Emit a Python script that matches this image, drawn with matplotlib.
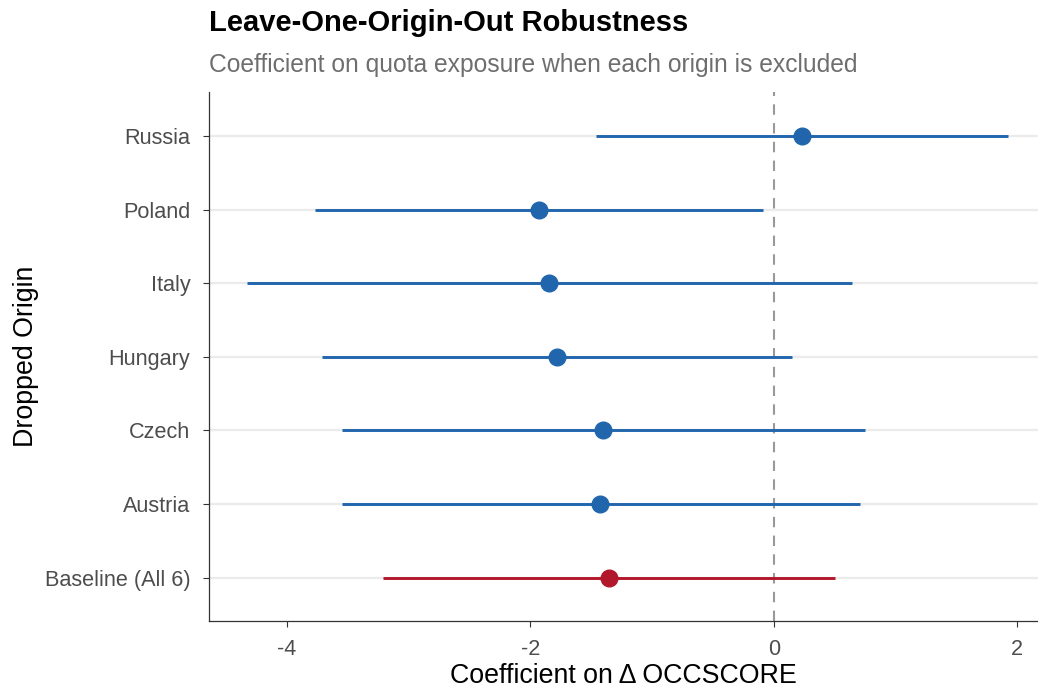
import matplotlib
matplotlib.use("Agg")
import matplotlib.pyplot as plt

plt.rcParams['font.family'] = ['Liberation Sans', 'DejaVu Sans']

# Leave-one-origin-out estimates (bottom to top)
origins = ["Baseline (All 6)", "Austria", "Czech", "Hungary", "Italy", "Poland", "Russia"]
estimates = [-1.35, -1.43, -1.40, -1.78, -1.85, -1.93, 0.23]
ci_low = [-3.21, -3.55, -3.55, -3.71, -4.33, -3.77, -1.46]
ci_high = [0.50, 0.71, 0.75, 0.15, 0.64, -0.09, 1.92]
xticks = [-4, -2, 0, 2]

blue = "#2166ac"
red = "#b2182b"

fig = plt.figure(figsize=(10.38, 6.93), dpi=100)
ax = fig.add_axes([0.2013, 0.1039, 0.7987, 0.7633])

for i, name in enumerate(origins):
    ax.axhline(i, color="#ebebeb", lw=1.6, zorder=0)
    c = red if name.startswith("Baseline") else blue
    ax.plot([ci_low[i], ci_high[i]], [i, i], color=c, lw=2.1, solid_capstyle="butt", zorder=2)
    ax.plot(estimates[i], i, "o", color=c, ms=12, zorder=3)

ax.axvline(0, color="#999999", lw=1.5, ls=(0, (5, 4)), zorder=1)

ax.set_xlim(-4.64, 2.17)
ax.set_ylim(-0.59, 6.6)
ax.set_yticks(range(len(origins)))
ax.set_yticklabels(origins)
ax.set_xticks(xticks)
ax.set_xticklabels([str(t) for t in xticks])

for s in ["top", "right"]:
    ax.spines[s].set_visible(False)
for s in ["left", "bottom"]:
    ax.spines[s].set_color("#333333")
    ax.spines[s].set_linewidth(0.9)

ax.tick_params(axis="both", colors="#333333", length=4.3, width=0.8, labelsize=15.6,
               labelcolor="#4d4d4d")
ax.tick_params(axis="y", pad=9)
ax.tick_params(axis="x", pad=9)

ax.set_xlabel("Coefficient on \u0394 OCCSCORE", fontsize=19.3, color="black", labelpad=2)
ax.set_ylabel("Dropped Origin", fontsize=19.3, color="black", labelpad=4)

fig.text(0.2013, 0.967, "Leave-One-Origin-Out Robustness", fontsize=21,
         fontweight="bold", ha="left", va="center", color="black")
fig.text(0.2013, 0.906, "Coefficient on quota exposure when each origin is excluded",
         fontsize=17.7, ha="left", va="center", color="#6e6e6e")

fig.savefig("out.png", dpi=100)
